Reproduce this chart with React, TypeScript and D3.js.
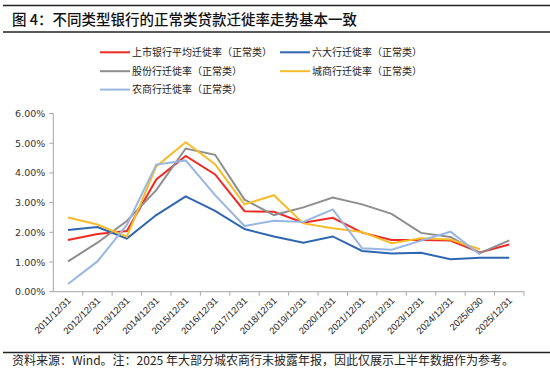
import React, { useEffect, useRef } from "react";
import * as d3 from "d3";

const categories = [
  "2011/12/31", "2012/12/31", "2013/12/31", "2014/12/31", "2015/12/31", "2016/12/31",
  "2017/12/31", "2018/12/31", "2019/12/31", "2020/12/31", "2021/12/31", "2022/12/31",
  "2023/12/31", "2024/12/31", "2025/6/30", "2025/12/31",
];

const listedAvg = [1.74, 1.94, 2.04, 3.78, 4.57, 3.95, 2.71, 2.69, 2.32, 2.49, 1.99, 1.74, 1.74, 1.72, 1.32, 1.59];
const bigSix = [2.08, 2.18, 1.79, 2.58, 3.21, 2.72, 2.11, 1.86, 1.65, 1.86, 1.37, 1.29, 1.31, 1.09, 1.14, 1.14];
const jointStock = [1.02, 1.65, 2.38, 3.42, 4.82, 4.61, 3.1, 2.58, 2.84, 3.17, 2.94, 2.62, 1.98, 1.84, 1.3, 1.73];
const cityBanks = [2.5, 2.26, 1.85, 4.22, 5.03, 4.29, 2.94, 3.25, 2.3, 2.14, 2.01, 1.63, 1.8, 1.76, 1.43, null];
const ruralBanks = [0.26, 1.02, 2.25, 4.28, 4.42, 3.25, 2.21, 2.39, 2.35, 2.77, 1.46, 1.41, 1.72, 2.02, 1.25, null];

const yTicks = [0, 1, 2, 3, 4, 5, 6];

const series = [
  { name: "上市银行平均迁徙率（正常类）", values: listedAvg, color: "#ee2a24" },
  { name: "六大行迁徙率（正常类）", values: bigSix, color: "#2f66b1" },
  { name: "股份行迁徙率（正常类）", values: jointStock, color: "#8e8e8e" },
  { name: "城商行迁徙率（正常类）", values: cityBanks, color: "#f7bc2c" },
  { name: "农商行迁徙率（正常类）", values: ruralBanks, color: "#99b6e2" },
];

const FONT = "'Noto Sans CJK SC', 'Noto Sans', sans-serif";

const App = () => {
  const svgRef = useRef<SVGSVGElement>(null);

  useEffect(() => {
    const svg = d3.select(svgRef.current);
    svg.selectAll("*").remove();

    const left = 53.3, right = 524, top = 113.5, bottom = 291.7;

    // title block
    svg.append("line").attr("x1", 3).attr("x2", 550).attr("y1", 5.5).attr("y2", 5.5)
      .attr("stroke", "#222").attr("stroke-width", 1.6);
    svg.append("text").attr("x", 12).attr("y", 25)
      .attr("font-family", FONT).attr("font-size", 14.5).attr("font-weight", 500).attr("fill", "#111")
      .text("图 4：不同类型银行的正常类贷款迁徙率走势基本一致");
    svg.append("line").attr("x1", 3).attr("x2", 550).attr("y1", 32).attr("y2", 32)
      .attr("stroke", "#222").attr("stroke-width", 1.3);

    const x = d3.scaleBand().domain(categories).range([left, right]).padding(0);
    const cx = (c: string) => (x(c) as number) + x.bandwidth() / 2;
    const y = d3.scaleLinear().domain([0, 6]).range([bottom, top]);

    // legend
    const legendPos = [
      [100, 52.3], [280, 52.3], [100, 71.2], [280, 71.2], [100, 89.6],
    ];
    series.forEach((s, i) => {
      const [lx, ly] = legendPos[i];
      const g = svg.append("g").attr("transform", `translate(${lx},${ly})`);
      g.append("line").attr("x1", 0).attr("x2", 30).attr("y1", 0).attr("y2", 0)
        .attr("stroke", s.color).attr("stroke-width", 2);
      g.append("text").attr("x", 32).attr("y", 3.6)
        .attr("font-family", FONT).attr("font-size", 10).attr("fill", "#222")
        .text(s.name);
    });

    // y axis
    const axisColor = "#a6a6a6";
    svg.append("line").attr("x1", left).attr("x2", left).attr("y1", top).attr("y2", bottom)
      .attr("stroke", axisColor).attr("stroke-width", 1);
    yTicks.forEach(t => {
      svg.append("line").attr("x1", left - 4).attr("x2", left).attr("y1", y(t)).attr("y2", y(t))
        .attr("stroke", axisColor).attr("stroke-width", 1);
      svg.append("text").attr("x", left - 8).attr("y", y(t) + 3.5).attr("text-anchor", "end")
        .attr("font-family", "'DejaVu Sans', sans-serif").attr("font-size", 9.5).attr("fill", "#333")
        .text(t.toFixed(2) + "%");
    });

    // x axis
    svg.append("line").attr("x1", left).attr("x2", right).attr("y1", bottom).attr("y2", bottom)
      .attr("stroke", axisColor).attr("stroke-width", 1);
    categories.forEach((c, i) => {
      const tx = x(c) as number;
      if (i > 0) {
        svg.append("line").attr("x1", tx).attr("x2", tx).attr("y1", bottom).attr("y2", bottom + 4)
          .attr("stroke", axisColor).attr("stroke-width", 1);
      }
      svg.append("text")
        .attr("transform", `translate(${cx(c) + 3.5},${bottom + 9.5}) rotate(-45)`)
        .attr("text-anchor", "end")
        .attr("font-family", "'Liberation Sans', Arial, sans-serif").attr("font-size", 9.5).attr("fill", "#222")
        .text(c);
    });
    svg.append("line").attr("x1", right).attr("x2", right).attr("y1", bottom).attr("y2", bottom + 4)
      .attr("stroke", axisColor).attr("stroke-width", 1);

    // lines
    const line = d3.line<number | null>()
      .defined(d => d !== null)
      .x((d, i) => cx(categories[i]))
      .y(d => y(d as number));

    series.forEach(s => {
      svg.append("path").datum(s.values)
        .attr("fill", "none").attr("stroke", s.color).attr("stroke-width", 2)
        .attr("stroke-linejoin", "miter").attr("d", line);
    });

    // footer
    svg.append("line").attr("x1", 3).attr("x2", 550).attr("y1", 352.5).attr("y2", 352.5)
      .attr("stroke", "#222").attr("stroke-width", 1.3);
    svg.append("text").attr("x", 12).attr("y", 364.5)
      .attr("font-family", FONT).attr("font-size", 12).attr("fill", "#222")
      .text("资料来源：Wind。注：2025 年大部分城农商行未披露年报，因此仅展示上半年数据作为参考。");
  }, []);

  return (
    <div style={{ position: "fixed", left: 0, top: 0, width: 550, height: 368, background: "#fff" }}>
      <svg ref={svgRef} width={550} height={368}></svg>
    </div>
  );
};

export default App;
